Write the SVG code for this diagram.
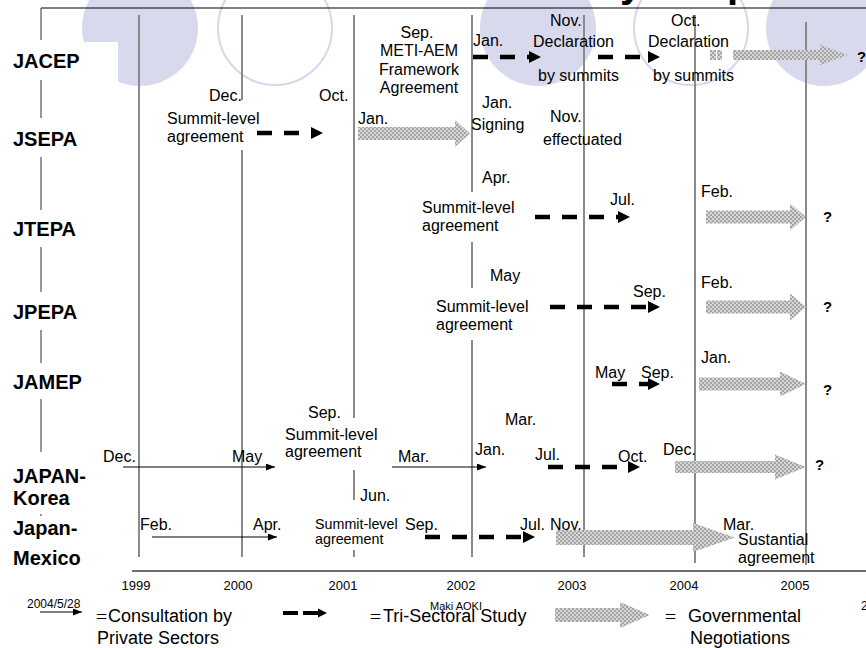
<svg xmlns="http://www.w3.org/2000/svg" width="866" height="648" viewBox="0 0 866 648">
<style>
text{font-family:"Liberation Sans",Arial,sans-serif;fill:#000}
.t{font-size:16px}
.s{font-size:14.3px}
.b{font-size:20px;font-weight:bold}
.q{font-size:15px;font-weight:bold}
.yr{font-size:13px;font-weight:normal}
.lg{font-size:18px}
.eq{font-family:"Noto Sans CJK JP","Liberation Sans",sans-serif;font-size:13px}
.yl{stroke:#8a8a8a;stroke-width:2;fill:none}
.lv{stroke:#333;stroke-width:1;fill:none}
.dash{stroke:#000;stroke-width:4.5;stroke-dasharray:15 12;fill:none;marker-end:url(#dh)}
.thin{stroke:#000;stroke-width:1;fill:none;marker-end:url(#th)}
.ga{fill:url(#chk)}
.cf{fill:#d9d9ee}
.co{fill:none;stroke:#d6d6ec;stroke-width:2}
</style>
<defs>
<pattern id="chk" patternUnits="userSpaceOnUse" width="4" height="4">
<rect width="4" height="4" fill="#d6d6d6"/>
<rect width="2" height="2" fill="#a4a4a4"/>
<rect x="2" y="2" width="2" height="2" fill="#a4a4a4"/>
</pattern>
<marker id="dh" markerUnits="userSpaceOnUse" markerWidth="12" markerHeight="12" refX="0" refY="6" orient="auto" viewBox="0 0 12 12"><path d="M0,0L12,6L0,12z" fill="#000"/></marker>
<marker id="th" markerUnits="userSpaceOnUse" markerWidth="9" markerHeight="7" refX="9" refY="3.5" orient="auto" viewBox="0 0 9 7"><path d="M0,0L9,3.5L0,7z" fill="#000"/></marker>
</defs>
<rect width="866" height="648" fill="#fff"/>
<g id="background">
<circle class="cf" cx="140" cy="28" r="58"/>
<circle class="co" cx="275" cy="28" r="57"/>
<circle class="cf" cx="538" cy="28" r="58"/>
<circle class="co" cx="691" cy="28" r="57"/>
<circle class="cf" cx="824" cy="28" r="58"/>
<rect x="0" y="42" width="118" height="44" fill="#fff"/>
<text x="620" y="-3" style="font-size:40px;font-weight:bold">y</text>
<text x="727" y="-3" style="font-size:40px;font-weight:bold">p</text>
<line x1="41" y1="8" x2="866" y2="8" stroke="#000" stroke-width="1.2"/>
<path class="lv" d="M41,8V40M41,80V118M41,157V210M41,247V292M41,330V363M41,399V452M41,514V516"/>
</g>
<g id="timeline">
<path class="yl" d="M139,15V557M242,15V100M242,150V557M354,15V418M354,470V500M354,550V557M472,15V192M472,242V288M472,340V557M584,15V557M695,15V563M806,22V565"/>
<line x1="132" y1="571" x2="866" y2="571" stroke="#6e6e6e" stroke-width="2"/>
<g class="yr" text-anchor="middle">
<text x="136" y="590">1999</text><text x="238" y="590">2000</text><text x="343" y="590">2001</text><text x="461" y="590">2002</text><text x="572" y="590">2003</text><text x="684" y="590">2004</text><text x="795" y="590">2005</text>
</g>
</g>
<g id="connectors">
<line class="dash" x1="473" y1="57" x2="529" y2="57"/>
<line class="dash" x1="598" y1="57" x2="648" y2="57"/>
<rect class="ga" x="710" y="50" width="6" height="10"/>
<rect class="ga" x="717" y="50" width="5" height="10"/>
<path class="ga" d="M733,50H820V45L848,55L820,65V60H733Z"/>
<line class="dash" x1="257" y1="133" x2="311" y2="133"/>
<path class="ga" d="M358,127H455V120L470,133.5L455,147V140H358Z"/>
<line class="dash" x1="535" y1="217" x2="618" y2="217"/>
<path class="ga" d="M706,210.5H790V203.5L806,217L790,230.5V223.5H706Z"/>
<line class="dash" x1="550" y1="307" x2="648" y2="307"/>
<path class="ga" d="M706,300.5H790V293.5L806,307L790,320.5V313.5H706Z"/>
<line class="dash" x1="612" y1="384" x2="648" y2="384"/>
<path class="ga" d="M699,377.5H780V371.5L806,384L780,396.5V390.5H699Z"/>
<line class="thin" x1="123" y1="467" x2="275" y2="467"/>
<line class="thin" x1="392" y1="467" x2="486" y2="467"/>
<line class="dash" x1="548" y1="467" x2="628" y2="467"/>
<path class="ga" d="M675,461H775V454.5L806,467L775,479.5V473H675Z"/>
<line class="thin" x1="152" y1="537" x2="277" y2="537"/>
<line class="dash" x1="425" y1="537" x2="523" y2="537"/>
<path class="ga" d="M556,530H693V523L735,537.5L693,552V545H556Z"/>
</g>
<g id="row-jacep">
<text class="b" x="13" y="68">JACEP</text>
<g class="t" text-anchor="middle"><text x="417" y="38">Sep.</text><text x="419" y="56">METI-AEM</text><text x="419" y="75">Framework</text><text x="419" y="93">Agreement</text></g>
<g class="t"><text x="473" y="46">Jan.</text><text x="550" y="26">Nov.</text><text x="533" y="47">Declaration</text><text x="538" y="81">by summits</text><text x="671" y="26">Oct.</text><text x="648" y="47">Declaration</text><text x="653" y="81">by summits</text></g>
<text class="q" x="857" y="62">?</text>
</g>
<g id="row-jsepa">
<text class="b" x="13" y="146">JSEPA</text>
<g class="t"><text x="209" y="101">Dec.</text><text x="319" y="101">Oct.</text><text x="167" y="124">Summit-level</text><text x="167" y="142">agreement</text><text x="358" y="124">Jan.</text><text x="482" y="108">Jan.</text><text x="471" y="130">Signing</text><text x="550" y="122">Nov.</text><text x="543" y="145">effectuated</text></g>
</g>
<g id="row-jtepa">
<text class="b" x="13" y="236">JTEPA</text>
<g class="t"><text x="482" y="183">Apr.</text><text x="422" y="213">Summit-level</text><text x="422" y="231">agreement</text><text x="610" y="205">Jul.</text><text x="701" y="197">Feb.</text></g>
<text class="q" x="823" y="222">?</text>
</g>
<g id="row-jpepa">
<text class="b" x="13" y="319">JPEPA</text>
<g class="t"><text x="490" y="281">May</text><text x="436" y="312">Summit-level</text><text x="436" y="330">agreement</text><text x="633" y="297">Sep.</text><text x="701" y="288">Feb.</text></g>
<text class="q" x="823" y="312">?</text>
</g>
<g id="row-jamep">
<text class="b" x="13" y="389">JAMEP</text>
<g class="t"><text x="595" y="378">May</text><text x="641" y="378">Sep.</text><text x="701" y="363">Jan.</text></g>
<text class="q" x="823" y="395">?</text>
</g>
<g id="row-korea">
<text class="b" x="13" y="483">JAPAN-</text>
<text class="b" x="13" y="505">Korea</text>
<g class="t"><text x="103" y="462">Dec.</text><text x="232" y="462">May</text><text x="308" y="418">Sep.</text><text x="285" y="440">Summit-level</text><text x="285" y="457">agreement</text><text x="398" y="462">Mar.</text><text x="505" y="425">Mar.</text><text x="475" y="455">Jan.</text><text x="535" y="460">Jul.</text><text x="618" y="462">Oct.</text><text x="663" y="455">Dec.</text></g>
<text class="q" x="815" y="470">?</text>
</g>
<g id="row-mexico">
<text class="b" x="13" y="535">Japan-</text>
<text class="b" x="13" y="565">Mexico</text>
<g class="t"><text x="140" y="530">Feb.</text><text x="253" y="530">Apr.</text><text x="360" y="501">Jun.</text><text class="s" x="315" y="529">Summit-level</text><text class="s" x="315" y="544">agreement</text><text x="405" y="530">Sep.</text><text x="520" y="530">Jul.</text><text x="550" y="530">Nov.</text><text x="723" y="530">Mar.</text><text x="738" y="545">Sustantial</text><text x="738" y="563">agreement</text></g>
</g>
<g id="legend">
<text x="27" y="608" style="font-size:12px">2004/5/28</text>
<line class="thin" x1="40" y1="612" x2="82" y2="612"/>
<text class="eq" x="95" y="621">＝</text>
<text class="lg" x="108" y="622">Consultation by</text>
<text class="lg" x="97" y="644">Private Sectors</text>
<line x1="283" y1="613" x2="318" y2="613" stroke="#000" stroke-width="4" stroke-dasharray="15 5"/>
<path d="M318,608.5L327,613L318,617.5Z" fill="#000"/>
<text class="eq" x="369" y="621">＝</text>
<text class="lg" x="383" y="622">Tri-Sectoral Study</text>
<text x="430" y="610" style="font-size:11px">Maki AOKI</text>
<path class="ga" d="M555,608H620V602L650,615L620,628V622H555Z"/>
<text class="eq" x="664" y="621">＝</text>
<text class="lg" x="688" y="622">Governmental</text>
<text class="lg" x="690" y="644">Negotiations</text>
<text x="861" y="610" style="font-size:12px">2</text>
</g>
</svg>
